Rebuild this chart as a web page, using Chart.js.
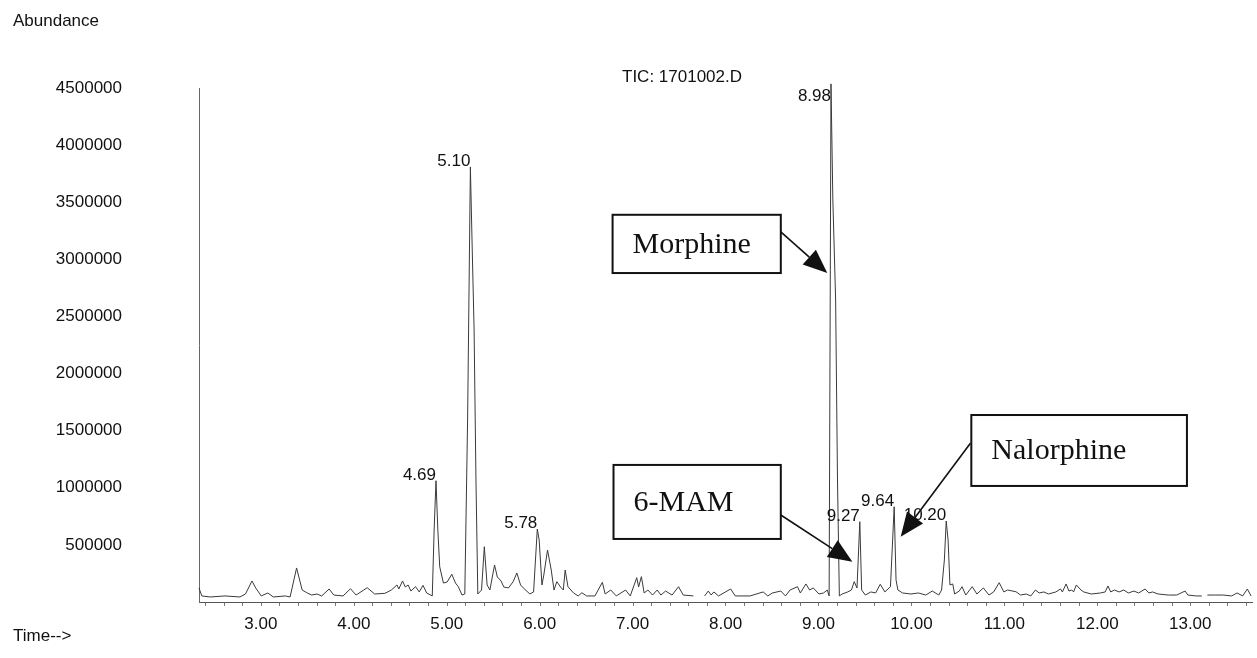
<!DOCTYPE html>
<html lang="en">
<head>
    <meta charset="UTF-8">
    <title>TIC: 1701002.D</title>
    <script src="https://cdn.jsdelivr.net/npm/chart.js"></script>
    <style>
        body { margin: 0; background: #fff; }
    </style>
</head>
<body>
    <canvas id="ticChart" width="1257" height="658"></canvas>

    <script>
        // retention time (min) and abundance
        const retentionTime = [
            2.13, 2.16, 2.25, 2.41, 2.57, 2.63, 2.70, 2.74, 2.80, 2.87,
            2.93, 3.06, 3.11, 3.18, 3.24, 3.29, 3.34, 3.40, 3.45, 3.53,
            3.58, 3.68, 3.76, 3.82, 3.94, 4.02, 4.13, 4.20, 4.26, 4.28,
            4.32, 4.35, 4.38, 4.41, 4.46, 4.50, 4.54, 4.58, 4.64, 4.66,
            4.68, 4.70, 4.72, 4.76, 4.80, 4.85, 4.89, 4.92, 4.96, 4.99,
            5.02, 5.05, 5.07, 5.09, 5.11, 5.13, 5.17, 5.20, 5.23, 5.26,
            5.31, 5.34, 5.38, 5.41, 5.46, 5.51, 5.55, 5.59, 5.62, 5.69,
            5.73, 5.77, 5.79, 5.82, 5.84, 5.88, 5.92, 5.95, 5.98, 6.02,
            6.05, 6.07, 6.10, 6.16, 6.21, 6.25, 6.30, 6.39, 6.47, 6.50,
            6.56, 6.62, 6.72, 6.77, 6.84, 6.86, 6.89, 6.92, 6.96, 7.01,
            7.06, 7.10, 7.15, 7.22, 7.29, 7.34, 7.45, 7.50, 7.57, 7.61,
            7.64, 7.67, 7.72, 7.85, 7.90, 8.06, 8.20, 8.25, 8.30, 8.39,
            8.44, 8.49, 8.57, 8.60, 8.66, 8.70, 8.74, 8.80, 8.85, 8.89,
            8.91, 8.93, 8.95, 8.98, 9.00, 9.02, 9.05, 9.11, 9.15, 9.18,
            9.21, 9.24, 9.26, 9.30, 9.36, 9.41, 9.46, 9.51, 9.57, 9.61,
            9.63, 9.65, 9.70, 9.79, 9.87, 9.95, 10.02, 10.09, 10.12, 10.15,
            10.17, 10.19, 10.21, 10.24, 10.26, 10.31, 10.34, 10.38, 10.45, 10.50,
            10.57, 10.63, 10.68, 10.74, 10.79, 10.83, 10.92, 10.97, 11.03, 11.08,
            11.13, 11.17, 11.22, 11.27, 11.35, 11.40, 11.42, 11.46, 11.49, 11.52,
            11.54, 11.57, 11.62, 11.65, 11.73, 11.83, 11.88, 11.91, 11.94, 11.98,
            12.03, 12.08, 12.13, 12.19, 12.24, 12.31, 12.35, 12.39, 12.45, 12.56,
            12.65, 12.74, 12.77, 12.86, 12.92, 12.95, 12.98, 13.07, 13.15, 13.24,
            13.30, 13.36, 13.41, 13.45
        ];

        const abundance = [
            123000, 53000, 44000, 53000, 44000, 70000, 184000, 123000, 53000, 79000,
            44000, 53000, 44000, 298000, 105000, 81000, 61000, 70000, 53000, 114000,
            61000, 53000, 116000, 61000, 125000, 70000, 76000, 105000, 149000, 114000,
            184000, 131000, 149000, 96000, 134000, 88000, 146000, 79000, 53000, 630000,
            1062000, 630000, 309000, 166000, 175000, 243000, 166000, 134000, 61000, 70000,
            1594000, 3809000, 3082000, 2382000, 1068000, 70000, 105000, 484000, 149000, 105000,
            324000, 219000, 184000, 131000, 123000, 178000, 254000, 149000, 123000, 70000,
            88000, 639000, 543000, 149000, 236000, 455000, 280000, 105000, 178000, 131000,
            105000, 280000, 134000, 79000, 53000, 81000, 53000, 53000, 172000, 70000,
            105000, 53000, 105000, 53000, 213000, 131000, 222000, 79000, 105000, 61000,
            105000, 61000, 96000, 61000, 134000, 61000, 53000, null, 53000, 96000,
            61000, 88000, 53000, 114000, 53000, 53000, 88000, 53000, 79000, 96000,
            53000, 105000, 134000, 79000, 158000, 105000, 123000, 70000, 79000, 105000,
            53000, 4536000, 3520000, 2644000, 1068000, 53000, 70000, 88000, 105000, 178000,
            123000, 703000, 105000, 61000, 88000, 79000, 155000, 88000, 134000, 834000,
            193000, 105000, 79000, 70000, 79000, 61000, 96000, 61000, 105000, 368000,
            709000, 543000, 149000, 158000, 70000, 96000, 134000, 61000, 134000, 70000,
            123000, 61000, 88000, 169000, 88000, 105000, 90000, 61000, 70000, 53000,
            105000, 79000, 88000, 70000, 88000, 114000, 88000, 158000, 96000, 105000,
            88000, 149000, 105000, 88000, 70000, 79000, 88000, 140000, 88000, 105000,
            88000, 105000, 79000, 96000, 79000, 114000, 79000, 88000, 70000, 61000,
            61000, 96000, 61000, 53000, 53000, null, 61000, 61000, 61000, 53000,
            79000, 53000, 114000, 53000
        ];

        // labelled peaks (apex times in the arrays above, printed labels)
        const peakTimes = [4.68, 5.05, 5.77, 8.93, 9.24, 9.61, 10.17];
        const peakLabels = ['4.69', '5.10', '5.78', '8.98', '9.27', '9.64', '10.20'];

        // callout boxes: [t1, top abundance, t2, bottom abundance], arrow from -> to
        const callouts = [
            { text: 'Morphine', box: [6.58, 3390000, 8.39, 2880000], from: [8.39, 3240000], to: [8.89, 2880000] },
            { text: '6-MAM', box: [6.59, 1200000, 8.39, 552000], from: [8.39, 762000], to: [9.16, 353000] },
            { text: 'Nalorphine', box: [10.44, 1637000, 12.76, 1016000], from: [10.43, 1390000], to: [9.68, 572000] }
        ];

        const sans = '"Liberation Sans", Arial, sans-serif';
        const serif = '"Liberation Serif", "Times New Roman", serif';

        function drawArrow(ctx, x1, y1, x2, y2) {
            const ang = Math.atan2(y2 - y1, x2 - x1);
            const len = 24, half = 10;
            const bx = x2 - len * Math.cos(ang), by = y2 - len * Math.sin(ang);
            ctx.beginPath();
            ctx.moveTo(x1, y1);
            ctx.lineTo(bx, by);
            ctx.lineWidth = 1.6;
            ctx.stroke();
            ctx.beginPath();
            ctx.moveTo(x2, y2);
            ctx.lineTo(bx + half * Math.sin(ang), by - half * Math.cos(ang));
            ctx.lineTo(bx - half * Math.sin(ang), by + half * Math.cos(ang));
            ctx.closePath();
            ctx.fill();
        }

        const overlay = {
            id: 'overlay',
            afterDatasetsDraw(chart) {
                const { ctx, chartArea, scales: { x, y } } = chart;
                ctx.save();
                ctx.fillStyle = '#111';
                ctx.strokeStyle = '#111';

                ctx.font = '17px ' + sans;
                ctx.textBaseline = 'middle';
                ctx.textAlign = 'left';
                ctx.fillText('Abundance', 13, 21);
                ctx.fillText('Time-->', 13, 636);
                ctx.textAlign = 'center';
                ctx.fillText('TIC: 1701002.D', 682, 77);

                // peak retention time labels
                ctx.textAlign = 'right';
                ctx.textBaseline = 'alphabetic';
                peakTimes.forEach((t, i) => {
                    const idx = retentionTime.indexOf(t);
                    const px = x.getPixelForValue(t);
                    const py = Math.max(y.getPixelForValue(abundance[idx]) - 1, chartArea.top + 13);
                    ctx.fillText(peakLabels[i], px, py);
                });

                // compound callouts
                callouts.forEach(c => {
                    const l = x.getPixelForValue(c.box[0]), t = y.getPixelForValue(c.box[1]);
                    const r = x.getPixelForValue(c.box[2]), b = y.getPixelForValue(c.box[3]);
                    ctx.fillStyle = '#fff';
                    ctx.fillRect(l, t, r - l, b - t);
                    ctx.lineWidth = 2;
                    ctx.strokeRect(l, t, r - l, b - t);
                    ctx.fillStyle = '#111';
                    ctx.font = '30px ' + serif;
                    ctx.textAlign = 'left';
                    ctx.fillText(c.text, l + 20, (t + b) / 2 + 9);
                    drawArrow(ctx,
                        x.getPixelForValue(c.from[0]), y.getPixelForValue(c.from[1]),
                        x.getPixelForValue(c.to[0]), y.getPixelForValue(c.to[1]));
                });
                ctx.restore();
            }
        };

        const ctx = document.getElementById('ticChart').getContext('2d');
        new Chart(ctx, {
            type: 'line',
            data: {
                datasets: [{
                    data: retentionTime.map((t, i) => ({ x: t, y: abundance[i] })),
                    borderColor: '#3a3a3a',
                    borderWidth: 1,
                    pointRadius: 0,
                    tension: 0,
                    spanGaps: false,
                    clip: false
                }]
            },
            options: {
                responsive: false,
                animation: false,
                devicePixelRatio: 1,
                layout: { padding: { top: 88, right: 5, left: 0, bottom: 0 } },
                plugins: {
                    legend: { display: false },
                    tooltip: { enabled: false }
                },
                scales: {
                    x: {
                        type: 'linear',
                        min: 2.13,
                        max: 13.46,
                        afterFit: (s) => {
                            s.height = 56;
                            s.paddingLeft = 0;
                            s.paddingRight = 0;
                        },
                        afterBuildTicks: (s) => {
                            const ticks = [];
                            for (let k = 11; k <= 67; k++) ticks.push({ value: k / 5 });
                            s.ticks = ticks;
                        },
                        grid: { display: true, drawOnChartArea: false, drawTicks: true, tickLength: 4, color: '#777' },
                        border: { display: true, color: '#555', dash: [2, 1] },
                        ticks: {
                            autoSkip: false,
                            maxRotation: 0,
                            padding: 8,
                            labelOffset: -19,
                            color: '#111',
                            font: { family: sans, size: 17 },
                            callback: (v) => Math.abs(v - Math.round(v)) < 1e-6 ? v.toFixed(2) : ''
                        }
                    },
                    y: {
                        min: 0,
                        max: 4500000,
                        afterFit: (s) => {
                            s.width = 199;
                            s.paddingTop = 0;
                            s.paddingBottom = 0;
                        },
                        grid: { display: false, drawTicks: false },
                        border: { display: true, color: '#666', dash: [1, 2] },
                        ticks: {
                            stepSize: 500000,
                            padding: 77,
                            color: '#111',
                            font: { family: sans, size: 17 },
                            callback: (v) => v === 0 ? '' : String(v)
                        }
                    }
                }
            },
            plugins: [overlay]
        });
    </script>
</body>
</html>
